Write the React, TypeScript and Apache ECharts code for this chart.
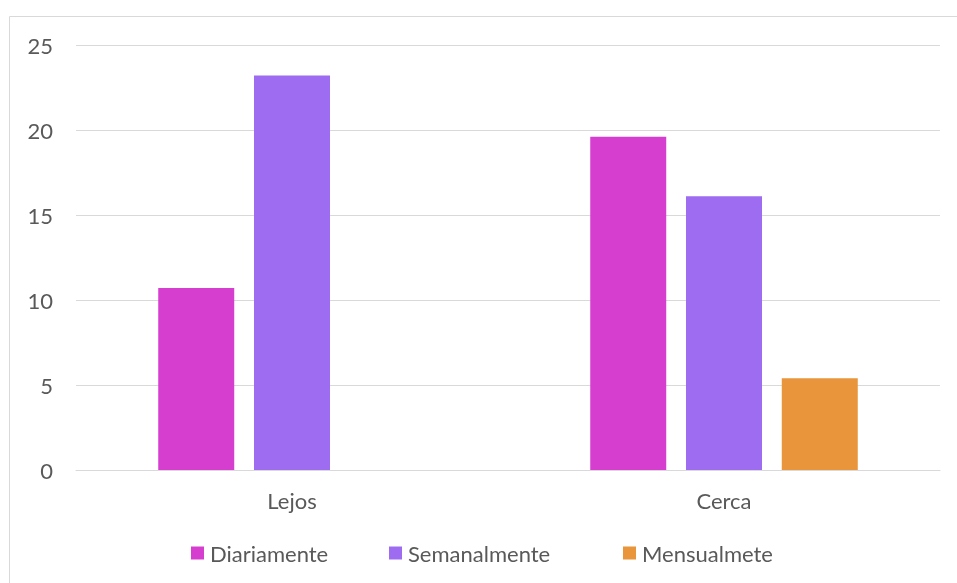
import React, { useEffect, useRef } from "react";
import * as echarts from "echarts";

const categories = ["Lejos", "Cerca"];
const seriesNames = ["Diariamente", "Semanalmente", "Mensualmete"];
const diariamente = [10.7, 19.6];
const semanalmente = [23.2, 16.1];
const mensualmete = [0, 5.4];
const colors = ["#D53ECF", "#9D6CF0", "#E8953B"];
const legendLefts = [191, 389, 623];

export default function App() {
  const ref = useRef<HTMLDivElement>(null);
  useEffect(() => {
    if (!ref.current) return;
    const chart = echarts.init(ref.current, undefined, { renderer: "svg" });
    const font = "Lato";
    const values = [diariamente, semanalmente, mensualmete];
    chart.setOption({
      animation: false,
      textStyle: { fontFamily: font },
      graphic: [
        {
          type: "rect",
          shape: { x: 9.5, y: 16.5, width: 1200, height: 1200 },
          style: { fill: "none", stroke: "#D9D9D9", lineWidth: 1 },
          silent: true,
        },
      ],
      grid: { left: 76, right: 17, top: 45, bottom: 113, containLabel: false },
      legend: seriesNames.map((name, i) => ({
        data: [name],
        top: 542,
        left: legendLefts[i],
        padding: 0,
        itemWidth: 13,
        itemHeight: 13,
        itemGap: 0,
        icon: "rect",
        textStyle: { fontFamily: font, fontSize: 22, color: "#595959", padding: [0, 0, 0, 1] },
      })),
      xAxis: {
        type: "category",
        data: categories,
        axisLine: { lineStyle: { color: "#D9D9D9", width: 1 } },
        axisTick: { show: false },
        axisLabel: { fontFamily: font, fontSize: 22, color: "#595959", margin: 19 },
      },
      yAxis: {
        type: "value",
        min: 0,
        max: 25,
        interval: 5,
        axisLine: { show: false },
        axisTick: { show: false },
        splitLine: { lineStyle: { color: "#D9D9D9", width: 1 } },
        axisLabel: { fontFamily: font, fontSize: 22, color: "#595959", margin: 23 },
      },
      series: seriesNames.map((name, i) => ({
        name,
        type: "bar",
        data: values[i],
        barWidth: 76,
        barGap: "26%",
        itemStyle: { color: colors[i] },
      })),
    });
    return () => chart.dispose();
  }, []);
  return (
    <div
      ref={ref}
      style={{ position: "fixed", left: 0, top: 0, width: 957, height: 583 }}
    />
  );
}
